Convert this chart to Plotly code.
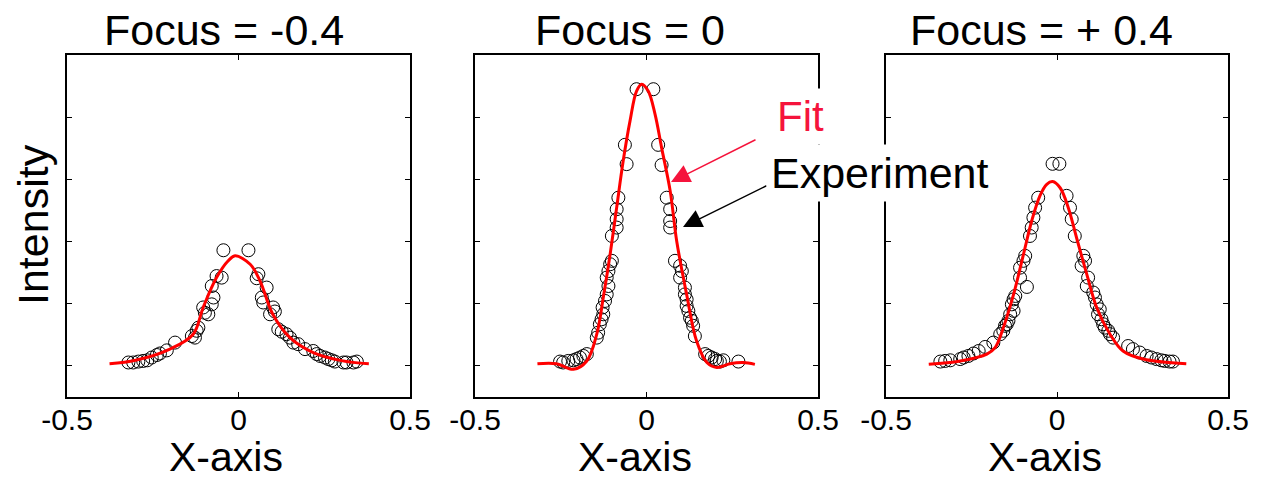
import plotly.graph_objects as go

W, H = 1266, 480

# ---------------- data ----------------
titles = ["Focus = -0.4", "Focus = 0", "Focus = + 0.4"]
x_tick_vals = [-0.5, 0, 0.5]
x_tick_text = ["-0.5", "0", "0.5"]
y_tick_vals = [0, 0.2, 0.4, 0.6, 0.8, 1.0]

# Panel 1 (Focus = -0.4)
fit1_x = [-0.376, -0.30, -0.2, -0.132, -0.103, -0.064, -0.030, -0.01, 0.034, 0.063, 0.10, 0.15, 0.218, 0.30, 0.38]
fit1_y = [0.007, 0.018, 0.054, 0.102, 0.188, 0.284, 0.338, 0.354, 0.327, 0.273, 0.166, 0.091, 0.043, 0.017, 0.007]
exp1_x = [-0.321, -0.307, -0.292, -0.278, -0.266, -0.253, -0.238, -0.229, -0.209, -0.185,
          -0.136, -0.127, -0.122, -0.117, -0.103, -0.098, -0.088, -0.078, -0.073, -0.078,
          -0.064, -0.049, -0.044, 0.029, 0.058, 0.053, 0.082, 0.068, 0.072, 0.101,
          0.106, 0.092, 0.116, 0.126, 0.140, 0.150, 0.160, 0.174, 0.194, 0.218,
          0.228, 0.238, 0.252, 0.262, 0.272, 0.281, 0.306, 0.315, 0.335, 0.345]
exp1_y = [0.011, 0.011, 0.014, 0.016, 0.018, 0.027, 0.035, 0.040, 0.050, 0.075,
          0.096, 0.091, 0.113, 0.123, 0.188, 0.171, 0.166, 0.198, 0.220, 0.257,
          0.289, 0.284, 0.372, 0.372, 0.295, 0.282, 0.252, 0.220, 0.204, 0.188,
          0.175, 0.166, 0.118, 0.110, 0.102, 0.091, 0.075, 0.070, 0.054, 0.048,
          0.038, 0.032, 0.027, 0.022, 0.018, 0.014, 0.011, 0.011, 0.011, 0.014]

# Panel 2 (Focus = 0)
fit2_x = [-0.318, -0.262, -0.213, -0.174, -0.145, -0.126, -0.106, -0.087, -0.068, -0.048,
          -0.029, -0.014, 0.005, 0.025, 0.044, 0.069, 0.088, 0.117, 0.146, 0.176,
          0.205, 0.243, 0.282, 0.316]
fit2_y = [0.007, 0.007, -0.011, 0.016, 0.102, 0.220, 0.359, 0.509, 0.659, 0.788,
          0.884, 0.906, 0.884, 0.809, 0.702, 0.563, 0.402, 0.230, 0.080, 0.011,
          -0.005, 0.007, 0.011, 0.005]
exp2_x = [-0.252, -0.243, -0.228, -0.213, -0.204, -0.194, -0.184, -0.174, -0.145, -0.141,
          -0.136, -0.131, -0.126, -0.128, -0.121, -0.116, -0.111, -0.116, -0.111, -0.106,
          -0.101, -0.101, -0.087, -0.087, -0.087, -0.082, -0.058, -0.063, -0.029, 0.020,
          0.034, 0.044, 0.059, 0.069, 0.069, 0.069, 0.083, 0.098, 0.103, 0.098,
          0.112, 0.112, 0.117, 0.117, 0.122, 0.127, 0.132, 0.136, 0.141, 0.171,
          0.180, 0.190, 0.200, 0.205, 0.214, 0.224, 0.268]
exp2_y = [0.014, 0.011, 0.016, 0.018, 0.022, 0.027, 0.032, 0.038, 0.091, 0.107,
          0.134, 0.150, 0.166, 0.188, 0.209, 0.230, 0.257, 0.284, 0.305, 0.327,
          0.338, 0.418, 0.445, 0.472, 0.504, 0.541, 0.649, 0.711, 0.890, 0.890,
          0.711, 0.646, 0.541, 0.504, 0.466, 0.445, 0.338, 0.322, 0.305, 0.284,
          0.252, 0.230, 0.214, 0.193, 0.177, 0.155, 0.145, 0.129, 0.096, 0.038,
          0.032, 0.027, 0.022, 0.016, 0.014, 0.018, 0.014]

# Panel 3 (Focus = +0.4)
fit3_x = [-0.375, -0.283, -0.205, -0.181, -0.157, -0.127, -0.098, -0.074, -0.050, -0.030,
          -0.013, 0.009, 0.033, 0.057, 0.087, 0.116, 0.155, 0.193, 0.252, 0.378]
fit3_y = [0.005, 0.016, 0.038, 0.059, 0.123, 0.230, 0.359, 0.466, 0.547, 0.584,
          0.593, 0.573, 0.509, 0.413, 0.295, 0.188, 0.102, 0.048, 0.022, 0.007]
exp3_x = [-0.341, -0.327, -0.312, -0.283, -0.273, -0.259, -0.244, -0.229, -0.210, -0.186,
          -0.166, -0.157, -0.152, -0.147, -0.142, -0.137, -0.127, -0.132, -0.127, -0.122,
          -0.088, -0.108, -0.108, -0.098, -0.093, -0.079, -0.074, -0.069, -0.064, -0.055,
          -0.013, 0.007, 0.028, 0.038, 0.043, 0.052, 0.077, 0.082, 0.072, 0.091,
          0.087, 0.106, 0.111, 0.116, 0.125, 0.120, 0.130, 0.135, 0.140, 0.150,
          0.155, 0.164, 0.208, 0.222, 0.242, 0.262, 0.276, 0.291, 0.305, 0.315,
          0.329, 0.339]
exp3_y = [0.014, 0.016, 0.018, 0.022, 0.027, 0.032, 0.040, 0.048, 0.061, 0.075,
          0.102, 0.113, 0.129, 0.134, 0.145, 0.166, 0.177, 0.198, 0.214, 0.225,
          0.254, 0.284, 0.316, 0.338, 0.354, 0.418, 0.445, 0.477, 0.509, 0.541,
          0.650, 0.650, 0.547, 0.509, 0.472, 0.418, 0.354, 0.338, 0.322, 0.284,
          0.257, 0.236, 0.220, 0.198, 0.182, 0.166, 0.150, 0.134, 0.123, 0.113,
          0.102, 0.091, 0.064, 0.054, 0.043, 0.032, 0.027, 0.022, 0.018, 0.016,
          0.014, 0.014]

fits = [(fit1_x, fit1_y), (fit2_x, fit2_y), (fit3_x, fit3_y)]
exps = [(exp1_x, exp1_y), (exp2_x, exp2_y), (exp3_x, exp3_y)]

# ---------------- layout geometry (pixels) ----------------
panels_px = [(67, 410), (475, 818), (886, 1228)]
top_px, bottom_px = 55, 397


def px(x):
    return x / W


def py(y):
    return 1 - y / H


FONT = "Liberation Sans, Arial, sans-serif"
RED = "#ff0000"
LABEL_RED = "#f5143c"

fig = go.Figure()
for i in range(3):
    sfx = "" if i == 0 else str(i + 1)
    fig.add_trace(go.Scatter(
        x=exps[i][0], y=exps[i][1], mode="markers",
        marker=dict(symbol="circle-open", size=13, color="black", line=dict(width=1, color="black")),
        xaxis="x" + sfx, yaxis="y" + sfx, showlegend=False, cliponaxis=False))
    fig.add_trace(go.Scatter(
        x=fits[i][0], y=fits[i][1], mode="lines",
        line=dict(color=RED, width=3, shape="spline", smoothing=1.0),
        xaxis="x" + sfx, yaxis="y" + sfx, showlegend=False))

layout = dict(
    template="none",
    width=W, height=H, margin=dict(l=0, r=0, t=0, b=0, pad=0),
    paper_bgcolor="white", plot_bgcolor="white",
    font=dict(family=FONT, color="black"),
    showlegend=False,
)
for i, (l, r) in enumerate(panels_px):
    sfx = "" if i == 0 else str(i + 1)
    layout["xaxis" + sfx] = dict(
        domain=[px(l), px(r)], range=[-0.5, 0.5], anchor="y" + sfx, automargin=False,
        tickvals=x_tick_vals, ticktext=x_tick_text, ticks="inside", ticklen=5,
        tickcolor="black", tickwidth=1, showline=True, linecolor="black", linewidth=1.5,
        mirror="ticks", showgrid=False, zeroline=False,
        tickfont=dict(size=30, family=FONT, color="black"), ticklabelstandoff=-5,
    )
    layout["yaxis" + sfx] = dict(
        domain=[py(bottom_px), py(top_px)], range=[-0.1, 1.0], anchor="x" + sfx, automargin=False,
        tickvals=y_tick_vals, ticks="inside", ticklen=5, tickcolor="black", tickwidth=1,
        showline=True, linecolor="black", linewidth=1.5, mirror="ticks",
        showgrid=False, zeroline=False, showticklabels=False,
    )
fig.update_layout(**layout)

ann = []
title_centers = [224, 630, 1041]
for t, cx in zip(titles, title_centers):
    ann.append(dict(text=t, x=px(cx), y=py(30), xref="paper", yref="paper",
                    xanchor="center", yanchor="middle", showarrow=False,
                    font=dict(size=43, family=FONT, color="black")))
for (l, r) in panels_px:
    ann.append(dict(text="X-axis", x=px((l + r) / 2 - 12), y=py(457), xref="paper", yref="paper",
                    xanchor="center", yanchor="middle", showarrow=False, borderpad=0,
                    font=dict(size=41, family=FONT, color="black")))
ann.append(dict(text="Intensity", x=px(33), y=py(225), xref="paper", yref="paper",
                xanchor="center", yanchor="middle", showarrow=False, textangle=-90,
                font=dict(size=43, family=FONT, color="black")))
# arrows
ann.append(dict(text="", x=px(671), y=py(182), xref="paper", yref="paper",
                ax=86, ay=-43, axref="pixel", ayref="pixel", showarrow=True,
                arrowhead=2, arrowsize=2.5, arrowwidth=1.5, arrowcolor=LABEL_RED, standoff=0))
ann.append(dict(text="", x=px(683), y=py(227), xref="paper", yref="paper",
                ax=85, ay=-42, axref="pixel", ayref="pixel", showarrow=True,
                arrowhead=2, arrowsize=2.5, arrowwidth=1.5, arrowcolor="black", standoff=0))
ann.append(dict(text="Fit", x=px(800), y=py(116), xref="paper", yref="paper",
                xanchor="center", yanchor="middle", showarrow=False, bgcolor="white",
                borderpad=4, font=dict(size=42, family=FONT, color=LABEL_RED)))
ann.append(dict(text="Experiment", x=px(880), y=py(173), xref="paper", yref="paper",
                xanchor="center", yanchor="middle", showarrow=False, bgcolor="white",
                borderpad=4, font=dict(size=43, family=FONT, color="black")))
fig.update_layout(annotations=ann)

fig.write_html("out.html")
